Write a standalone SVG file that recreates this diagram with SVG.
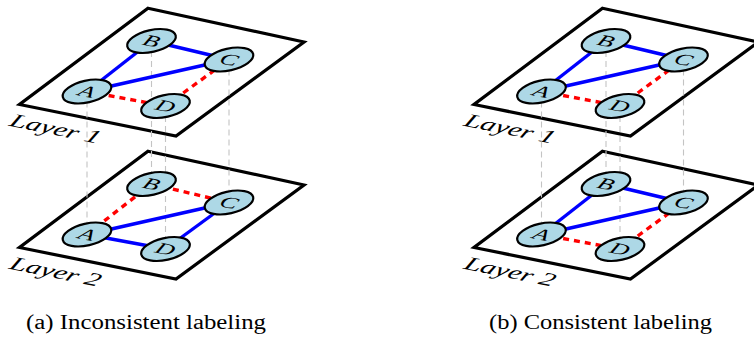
<svg xmlns="http://www.w3.org/2000/svg" width="754" height="338" viewBox="0 0 754 338">
<style>
.plane{fill:#fff;stroke:#000;stroke-width:3.2;stroke-linejoin:miter}
.proj{stroke:#c4c4c4;stroke-width:1.1;stroke-dasharray:6 4;fill:none}
.pos{stroke:#0000ff;stroke-width:3.4;fill:none}
.neg{stroke:#ff0000;stroke-width:3.4;stroke-dasharray:6 5;fill:none}
.nl{font-family:"Liberation Serif","DejaVu Serif",serif;font-style:italic;font-size:18px;text-anchor:middle;fill:#000}
.ll{font-family:"Liberation Serif","DejaVu Serif",serif;font-style:italic;font-size:21px;fill:#000}
.cap{font-family:"Liberation Serif","DejaVu Serif",serif;font-size:20px;fill:#000}
</style>
<defs>
<ellipse id="nodeshape" cx="0" cy="0" rx="24.8" ry="10.9" transform="rotate(-12.7)" fill="#add8e6" stroke="#000" stroke-width="2.2"/>
</defs>

<!-- Panel (a) -->
<g id="panel-a">
  <g id="a-layer1-plane"><path class="plane" d="M148,8.3 L304,42 L176,136 L19.5,104.5 Z"/>
    <text class="ll" transform="matrix(1.38 0.28 -0.45 0.85 8 125.5)">Layer 1</text></g>
  <g id="a-layer2-plane"><path class="plane" d="M148,151.3 L304,185 L176,279 L19.5,247.5 Z"/>
    <text class="ll" transform="matrix(1.38 0.28 -0.45 0.85 8 268.5)">Layer 2</text></g>
  <g id="a-connectors">
    <line class="proj" x1="87" y1="91.5" x2="87" y2="234.5"/>
    <line class="proj" x1="151.5" y1="41" x2="151.5" y2="184"/>
    <line class="proj" x1="165.5" y1="106" x2="165.5" y2="249"/>
    <line class="proj" x1="229" y1="59.5" x2="229" y2="202.5"/>
    <line class="pos" x1="87" y1="91.5" x2="151.5" y2="41"/>
    <line class="pos" x1="151.5" y1="41" x2="229" y2="59.5"/>
    <line class="pos" x1="87" y1="91.5" x2="229" y2="59.5"/>
    <line class="neg" x1="87" y1="91.5" x2="165.5" y2="106"/>
    <line class="neg" x1="165.5" y1="106" x2="229" y2="59.5"/>
    <line class="neg" x1="87" y1="234.5" x2="151.5" y2="184"/>
    <line class="neg" x1="151.5" y1="184" x2="229" y2="202.5"/>
    <line class="pos" x1="87" y1="234.5" x2="229" y2="202.5"/>
    <line class="pos" x1="87" y1="234.5" x2="165.5" y2="249"/>
    <line class="pos" x1="165.5" y1="249" x2="229" y2="202.5"/>
  </g>
  <g id="a-L1-A" transform="translate(87,91.5)"><use href="#nodeshape"/><text class="nl" transform="matrix(1.38 0.28 -0.45 0.85 0 0)" y="6">A</text></g>
  <g id="a-L1-B" transform="translate(151.5,41)"><use href="#nodeshape"/><text class="nl" transform="matrix(1.38 0.28 -0.45 0.85 0 0)" y="6">B</text></g>
  <g id="a-L1-C" transform="translate(229,59.5)"><use href="#nodeshape"/><text class="nl" transform="matrix(1.38 0.28 -0.45 0.85 0 0)" y="6">C</text></g>
  <g id="a-L1-D" transform="translate(165.5,106)"><use href="#nodeshape"/><text class="nl" transform="matrix(1.38 0.28 -0.45 0.85 0 0)" y="6">D</text></g>
  <g id="a-L2-A" transform="translate(87,234.5)"><use href="#nodeshape"/><text class="nl" transform="matrix(1.38 0.28 -0.45 0.85 0 0)" y="6">A</text></g>
  <g id="a-L2-B" transform="translate(151.5,184)"><use href="#nodeshape"/><text class="nl" transform="matrix(1.38 0.28 -0.45 0.85 0 0)" y="6">B</text></g>
  <g id="a-L2-C" transform="translate(229,202.5)"><use href="#nodeshape"/><text class="nl" transform="matrix(1.38 0.28 -0.45 0.85 0 0)" y="6">C</text></g>
  <g id="a-L2-D" transform="translate(165.5,249)"><use href="#nodeshape"/><text class="nl" transform="matrix(1.38 0.28 -0.45 0.85 0 0)" y="6">D</text></g>
  <text id="caption-a" class="cap" x="26" y="329" textLength="240" lengthAdjust="spacingAndGlyphs">(a) Inconsistent labeling</text>
</g>

<!-- Panel (b) -->
<g id="panel-b" transform="translate(454.5,0)">
  <g id="b-layer1-plane"><path class="plane" d="M148,8.3 L304,42 L176,136 L19.5,104.5 Z"/>
    <text class="ll" transform="matrix(1.38 0.28 -0.45 0.85 8 125.5)">Layer 1</text></g>
  <g id="b-layer2-plane"><path class="plane" d="M148,151.3 L304,185 L176,279 L19.5,247.5 Z"/>
    <text class="ll" transform="matrix(1.38 0.28 -0.45 0.85 8 268.5)">Layer 2</text></g>
  <g id="b-connectors">
    <line class="proj" x1="87" y1="91.5" x2="87" y2="234.5"/>
    <line class="proj" x1="151.5" y1="41" x2="151.5" y2="184"/>
    <line class="proj" x1="165.5" y1="106" x2="165.5" y2="249"/>
    <line class="proj" x1="229" y1="59.5" x2="229" y2="202.5"/>
    <line class="pos" x1="87" y1="91.5" x2="151.5" y2="41"/>
    <line class="pos" x1="151.5" y1="41" x2="229" y2="59.5"/>
    <line class="pos" x1="87" y1="91.5" x2="229" y2="59.5"/>
    <line class="neg" x1="87" y1="91.5" x2="165.5" y2="106"/>
    <line class="neg" x1="165.5" y1="106" x2="229" y2="59.5"/>
    <line class="pos" x1="87" y1="234.5" x2="151.5" y2="184"/>
    <line class="pos" x1="151.5" y1="184" x2="229" y2="202.5"/>
    <line class="pos" x1="87" y1="234.5" x2="229" y2="202.5"/>
    <line class="neg" x1="87" y1="234.5" x2="165.5" y2="249"/>
    <line class="neg" x1="165.5" y1="249" x2="229" y2="202.5"/>
  </g>
  <g id="b-L1-A" transform="translate(87,91.5)"><use href="#nodeshape"/><text class="nl" transform="matrix(1.38 0.28 -0.45 0.85 0 0)" y="6">A</text></g>
  <g id="b-L1-B" transform="translate(151.5,41)"><use href="#nodeshape"/><text class="nl" transform="matrix(1.38 0.28 -0.45 0.85 0 0)" y="6">B</text></g>
  <g id="b-L1-C" transform="translate(229,59.5)"><use href="#nodeshape"/><text class="nl" transform="matrix(1.38 0.28 -0.45 0.85 0 0)" y="6">C</text></g>
  <g id="b-L1-D" transform="translate(165.5,106)"><use href="#nodeshape"/><text class="nl" transform="matrix(1.38 0.28 -0.45 0.85 0 0)" y="6">D</text></g>
  <g id="b-L2-A" transform="translate(87,234.5)"><use href="#nodeshape"/><text class="nl" transform="matrix(1.38 0.28 -0.45 0.85 0 0)" y="6">A</text></g>
  <g id="b-L2-B" transform="translate(151.5,184)"><use href="#nodeshape"/><text class="nl" transform="matrix(1.38 0.28 -0.45 0.85 0 0)" y="6">B</text></g>
  <g id="b-L2-C" transform="translate(229,202.5)"><use href="#nodeshape"/><text class="nl" transform="matrix(1.38 0.28 -0.45 0.85 0 0)" y="6">C</text></g>
  <g id="b-L2-D" transform="translate(165.5,249)"><use href="#nodeshape"/><text class="nl" transform="matrix(1.38 0.28 -0.45 0.85 0 0)" y="6">D</text></g>
  <text id="caption-b" class="cap" x="34.5" y="329" textLength="223" lengthAdjust="spacingAndGlyphs">(b) Consistent labeling</text>
</g>
</svg>
